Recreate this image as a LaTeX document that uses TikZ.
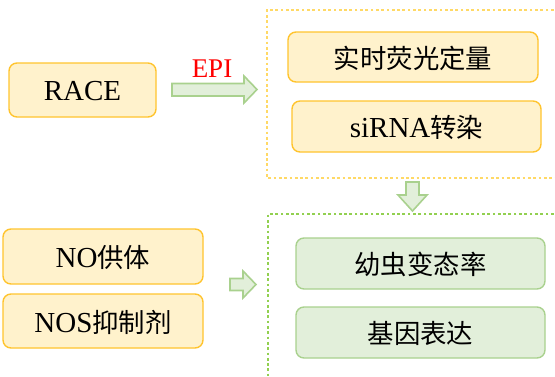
\documentclass[tikz,border=0pt]{standalone}
\usepackage{fontspec}
\setmainfont{Liberation Serif}
\newfontfamily\cjk{Noto Sans CJK SC}[Scale=0.91]
\definecolor{yfill}{HTML}{FFF2CC}
\definecolor{ydraw}{HTML}{FFC42E}
\definecolor{gfill}{HTML}{E2EFDA}
\definecolor{gdraw}{HTML}{A9D18E}
\definecolor{ydot}{HTML}{FFD966}
\definecolor{gdot}{HTML}{92D050}
\definecolor{epired}{HTML}{FF0000}
\tikzset{
  ybox/.style={draw=ydraw, fill=yfill, line width=1.4pt, rounded corners=8pt},
  gbox/.style={draw=gdraw, fill=gfill, line width=1.4pt, rounded corners=8pt},
  lbl/.style={font=\fontsize{29}{32}\selectfont, text=black, inner sep=0pt},
  blockarrow/.style={draw=gdraw, fill=gfill, line width=1.6pt, line join=miter},
  dotframe/.style={line width=2.9pt, dash pattern=on 2.7pt off 2.6pt}
}
\begin{document}
\begin{tikzpicture}[x=1pt,y=-1pt]
\useasboundingbox (0,0) rectangle (555,376);
% dotted frames
\draw[dotframe, ydot] (580,10) -- (267,10) -- (267,178) -- (580,178);
\draw[dotframe, gdot] (580,214) -- (268,214) -- (268,400);
% left boxes
\draw[ybox] (9,63) rectangle (156,117);
\node[lbl] (race) at (82.5,91) {RACE};
\draw[ybox] (3,229) rectangle (203,284);
\node[lbl] (nod) at (103,257) {NO{\cjk 供体}};
\draw[ybox] (3,294) rectangle (203,348);
\node[lbl] (nos) at (103,322) {NOS{\cjk 抑制剂}};
% right boxes
\draw[ybox] (288,32) rectangle (538,82);
\node[lbl] (qpcr) at (413,58) {\cjk 实时荧光定量};
\draw[ybox] (292,101) rectangle (541,152);
\node[lbl] (sirna) at (416.5,127) {siRNA{\cjk 转染}};
\draw[gbox] (296,238) rectangle (545,289);
\node[lbl] (meta) at (420.5,264) {\cjk 幼虫变态率};
\draw[gbox] (296,307) rectangle (545,358);
\node[lbl] (gene) at (420.5,333) {\cjk 基因表达};
% arrows
\draw[blockarrow] (172,83.5) -- (244,83.5) -- (244,76) -- (257,89.5) -- (244,103) -- (244,96) -- (172,96) -- cycle;
\node[font=\fontsize{27}{30}\selectfont, text=epired, inner sep=0pt] (epi) at (212,69) {EPI};
\draw[blockarrow] (406,182) -- (419,182) -- (419,195) -- (427,195) -- (412.5,211) -- (398,195) -- (406,195) -- cycle;
\draw[blockarrow] (230,278.5) -- (243,278.5) -- (243,271) -- (256,284.5) -- (243,298) -- (243,290.5) -- (230,290.5) -- cycle;
\end{tikzpicture}
\end{document}
